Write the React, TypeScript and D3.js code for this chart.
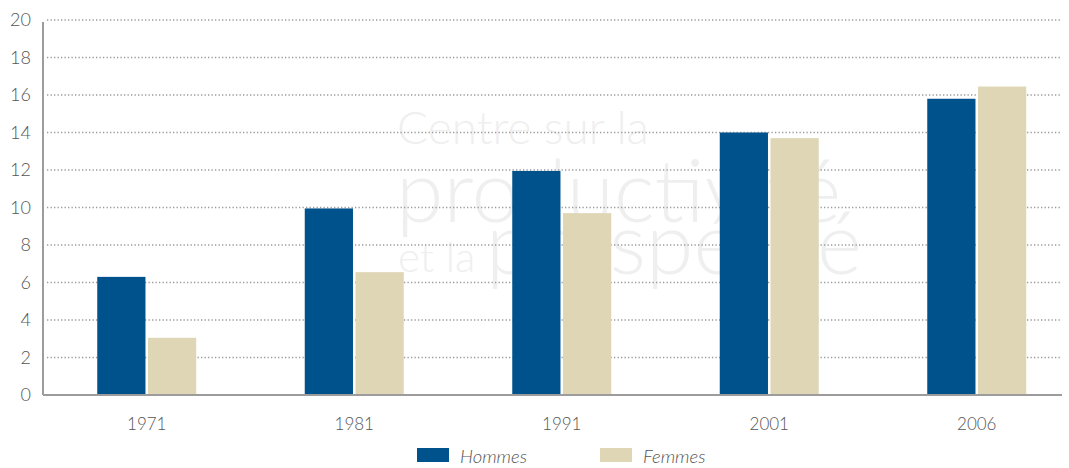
import React from 'react';
import * as d3 from 'd3';

const years = ['1971', '1981', '1991', '2001', '2006'];
const hommes = [6.3, 9.95, 11.95, 14.0, 15.8];
const femmes = [3.05, 6.55, 9.7, 13.7, 16.45];
const seriesNames = ['Hommes', 'Femmes'];
const yTicks = [0, 2, 4, 6, 8, 10, 12, 14, 16, 18, 20];

const W = 1069;
const H = 468;
const colors = ['#00528c', '#ded6b5'];
const font = 'Lato, "Open Sans", sans-serif';

const App: React.FC = () => {
  const left = 43;
  const right = 1062;

  const x = d3.scaleBand<string>()
    .domain(years)
    .range([left, left + 207.5 * years.length]);

  const y = d3.scaleLinear()
    .domain([0, 20])
    .range([395, 20]);

  const inner = d3.scaleBand<string>()
    .domain(seriesNames)
    .range([0, 99])
    .paddingInner(0.05);

  const rows = years.map((yr, i) => ({ year: yr, values: [hommes[i], femmes[i]] }));

  return (
    <svg width={W} height={H} style={{ position: 'absolute', left: 0, top: 0, background: '#fff' }}>
      {/* faint watermark */}
      <g fill="#efefef" fontFamily={font} fontWeight={300}>
        <text x={397} y={144} fontSize={46}>Centre sur la</text>
        <text x={396} y={222} fontSize={86}>productivité</text>
        <text x={398} y={272} fontSize={42}>et la</text>
        <text x={486} y={274} fontSize={86}>prospérité</text>
      </g>

      {/* gridlines */}
      {yTicks.filter(t => t > 0).map(t => (
        <line key={t} x1={left + 4} x2={right} y1={y(t)} y2={y(t)}
          stroke="#9a9a9a" strokeWidth={1.3} strokeDasharray="1.3,2.2" />
      ))}

      {/* bars */}
      {rows.map(r => (
        <g key={r.year} transform={`translate(${(x(r.year) ?? 0) + x.bandwidth() / 2 - 49.5},0)`}>
          {r.values.map((v, j) => (
            <rect key={j}
              x={inner(seriesNames[j])}
              y={y(v)}
              width={inner.bandwidth()}
              height={y(0) - y(v)}
              fill={colors[j]} />
          ))}
        </g>
      ))}

      {/* axes */}
      <line x1={left} x2={left} y1={22} y2={y(0)} stroke="#9c9c9c" strokeWidth={2} />
      <line x1={left} x2={right} y1={y(0)} y2={y(0)} stroke="#9c9c9c" strokeWidth={2} />

      {yTicks.map(t => (
        <text key={t} x={31} y={y(t)} dy="0.36em" textAnchor="end"
          fontFamily={font} fontWeight={300} fontSize={18} fill="#555">{t}</text>
      ))}

      {years.map(yr => (
        <text key={yr} x={(x(yr) ?? 0) + x.bandwidth() / 2} y={430} textAnchor="middle"
          fontFamily={font} fontWeight={300} fontSize={17} fill="#555">{yr}</text>
      ))}

      {/* legend */}
      {seriesNames.map((s, i) => (
        <g key={s} transform={`translate(${417 + i * 183},448)`}>
          <rect x={0} y={0} width={32} height={14} fill={colors[i]} />
          <text x={43} y={15} fontFamily={font} fontStyle="italic" fontWeight={300}
            fontSize={18.5} fill="#555">{s}</text>
        </g>
      ))}
    </svg>
  );
};

export default App;
